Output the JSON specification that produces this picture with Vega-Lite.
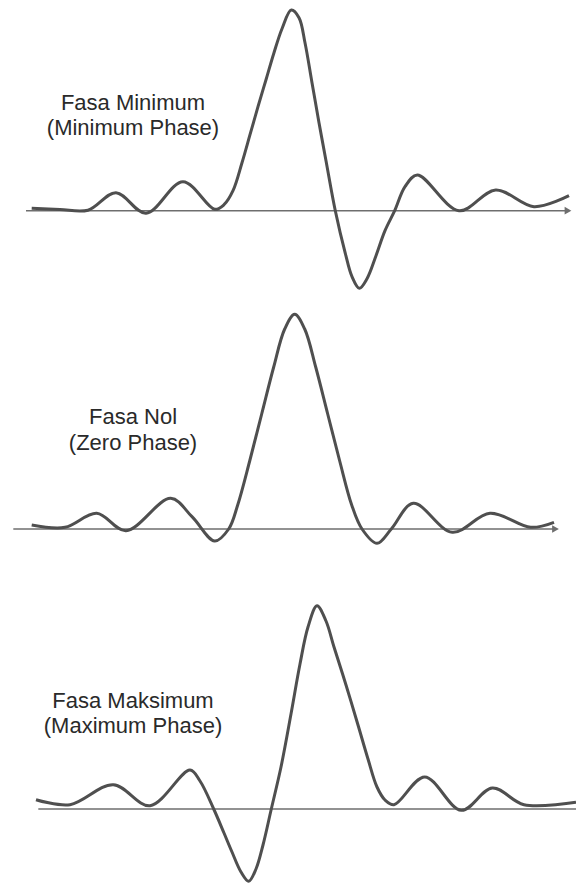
{
  "$schema": "https://vega.github.io/schema/vega-lite/v6.json",
  "background": "white",
  "padding": 0,
  "spacing": 0,
  "config": {"view": {"stroke": null}, "concat": {"spacing": 0}},
  "datasets": {
    "curve_min": [
      {"t": 31.7, "amp": 2.4}, {"t": 60, "amp": 1.2}, {"t": 88, "amp": 0.5},
      {"t": 116, "amp": 18.0}, {"t": 146, "amp": -2.6}, {"t": 183, "amp": 29.0},
      {"t": 214.7, "amp": 1.4}, {"t": 224, "amp": 6}, {"t": 233, "amp": 20},
      {"t": 242, "amp": 48}, {"t": 250, "amp": 76}, {"t": 258, "amp": 104},
      {"t": 266, "amp": 131}, {"t": 274, "amp": 158}, {"t": 282, "amp": 182},
      {"t": 291.3, "amp": 200.7}, {"t": 299, "amp": 193}, {"t": 305, "amp": 168},
      {"t": 312, "amp": 128}, {"t": 319, "amp": 88}, {"t": 326, "amp": 50},
      {"t": 335.3, "amp": 0}, {"t": 345.3, "amp": -42.6}, {"t": 352, "amp": -66},
      {"t": 359.3, "amp": -77.6}, {"t": 367, "amp": -68}, {"t": 376, "amp": -45},
      {"t": 385, "amp": -20}, {"t": 394.7, "amp": 0}, {"t": 405, "amp": 24},
      {"t": 417.3, "amp": 35.7}, {"t": 459, "amp": 0}, {"t": 495.7, "amp": 20.7},
      {"t": 534, "amp": 4}, {"t": 569, "amp": 15}
    ],
    "axis_min": [{"t1": 26, "t2": 566, "amp": 0}],
    "arrow_min": [{"t": 568, "amp": 0}],
    "text_min": [
      {"t": 133, "amp": 100.7, "label": "Fasa Minimum"},
      {"t": 133, "amp": 75.7, "label": "(Minimum Phase)"}
    ],
    "curve_zero": [
      {"t": 31.7, "amp": 4}, {"t": 65, "amp": 1.7}, {"t": 96.7, "amp": 15.7},
      {"t": 126, "amp": -1.7}, {"t": 170.7, "amp": 30.7}, {"t": 192, "amp": 12.3},
      {"t": 214.7, "amp": -12}, {"t": 228.7, "amp": 0}, {"t": 237.7, "amp": 24},
      {"t": 249.7, "amp": 68}, {"t": 261.7, "amp": 115}, {"t": 273.7, "amp": 162},
      {"t": 284.7, "amp": 200}, {"t": 294.7, "amp": 214.7}, {"t": 304.7, "amp": 200},
      {"t": 315.7, "amp": 162}, {"t": 327.7, "amp": 115}, {"t": 339.7, "amp": 68},
      {"t": 351.7, "amp": 24}, {"t": 362, "amp": 0}, {"t": 377, "amp": -14.3},
      {"t": 391.3, "amp": 0}, {"t": 413.3, "amp": 25.7}, {"t": 452.3, "amp": -3.3},
      {"t": 490, "amp": 15.7}, {"t": 530.7, "amp": 1.7}, {"t": 554, "amp": 6.7}
    ],
    "axis_zero": [{"t1": 13.3, "t2": 554, "amp": 0}],
    "arrow_zero": [{"t": 555.5, "amp": 0}],
    "text_zero": [
      {"t": 133, "amp": 104.7, "label": "Fasa Nol"},
      {"t": 133, "amp": 79, "label": "(Zero Phase)"}
    ],
    "curve_max": [
      {"t": 36, "amp": 9.3}, {"t": 70, "amp": 4.3}, {"t": 113.3, "amp": 24.3},
      {"t": 150, "amp": 3.3}, {"t": 190, "amp": 39}, {"t": 200, "amp": 28},
      {"t": 213.7, "amp": 0}, {"t": 224, "amp": -24}, {"t": 232, "amp": -43},
      {"t": 241, "amp": -63}, {"t": 248.7, "amp": -72.3}, {"t": 256, "amp": -60},
      {"t": 263, "amp": -36}, {"t": 271.3, "amp": 0}, {"t": 281, "amp": 42},
      {"t": 291, "amp": 95}, {"t": 300, "amp": 145}, {"t": 308, "amp": 182},
      {"t": 317, "amp": 203.3}, {"t": 326, "amp": 188}, {"t": 334, "amp": 162},
      {"t": 346, "amp": 124}, {"t": 358, "amp": 84}, {"t": 368, "amp": 50},
      {"t": 377, "amp": 22}, {"t": 385, "amp": 9}, {"t": 394, "amp": 4.3},
      {"t": 424.7, "amp": 32}, {"t": 461.3, "amp": -1.3}, {"t": 492.3, "amp": 21},
      {"t": 524, "amp": 4.3}, {"t": 576, "amp": 6.7}
    ],
    "axis_max": [{"t1": 38.3, "t2": 576, "amp": 0}],
    "text_max": [
      {"t": 133, "amp": 101, "label": "Fasa Maksimum"},
      {"t": 133, "amp": 76, "label": "(Maximum Phase)"}
    ]
  },
  "vconcat": [
    {
      "width": 576, "height": 295,
      "layer": [
        {"data": {"name": "axis_min"}, "mark": {"type": "rule", "stroke": "#6e6e6e", "strokeWidth": 1.5},
         "encoding": {
           "x": {"field": "t1", "type": "quantitative", "scale": {"domain": [0, 576], "nice": false, "zero": false}, "axis": null},
           "x2": {"field": "t2"},
           "y": {"field": "amp", "type": "quantitative", "scale": {"domain": [-84.3, 210.7], "nice": false, "zero": false}, "axis": null}}},
        {"data": {"name": "arrow_min"}, "mark": {"type": "point", "shape": "triangle-right", "filled": true, "size": 60, "color": "#6e6e6e", "opacity": 1},
         "encoding": {
           "x": {"field": "t", "type": "quantitative", "scale": {"domain": [0, 576], "nice": false, "zero": false}, "axis": null},
           "y": {"field": "amp", "type": "quantitative", "scale": {"domain": [-84.3, 210.7], "nice": false, "zero": false}, "axis": null}}},
        {"data": {"name": "curve_min"}, "mark": {"type": "line", "interpolate": "catmull-rom", "stroke": "#4f4f4f", "strokeWidth": 3},
         "encoding": {
           "x": {"field": "t", "type": "quantitative", "scale": {"domain": [0, 576], "nice": false, "zero": false}, "axis": null},
           "y": {"field": "amp", "type": "quantitative", "scale": {"domain": [-84.3, 210.7], "nice": false, "zero": false}, "axis": null}}},
        {"data": {"name": "text_min"}, "mark": {"type": "text", "font": "Liberation Sans", "fontSize": 22, "align": "center", "baseline": "alphabetic", "color": "#2a2a2a"},
         "encoding": {
           "x": {"field": "t", "type": "quantitative", "scale": {"domain": [0, 576], "nice": false, "zero": false}, "axis": null},
           "y": {"field": "amp", "type": "quantitative", "scale": {"domain": [-84.3, 210.7], "nice": false, "zero": false}, "axis": null},
           "text": {"field": "label", "type": "nominal"}}}
      ]
    },
    {
      "width": 576, "height": 288,
      "layer": [
        {"data": {"name": "axis_zero"}, "mark": {"type": "rule", "stroke": "#6e6e6e", "strokeWidth": 1.5},
         "encoding": {
           "x": {"field": "t1", "type": "quantitative", "scale": {"domain": [0, 576], "nice": false, "zero": false}, "axis": null},
           "x2": {"field": "t2"},
           "y": {"field": "amp", "type": "quantitative", "scale": {"domain": [-54, 234], "nice": false, "zero": false}, "axis": null}}},
        {"data": {"name": "arrow_zero"}, "mark": {"type": "point", "shape": "triangle-right", "filled": true, "size": 60, "color": "#6e6e6e", "opacity": 1},
         "encoding": {
           "x": {"field": "t", "type": "quantitative", "scale": {"domain": [0, 576], "nice": false, "zero": false}, "axis": null},
           "y": {"field": "amp", "type": "quantitative", "scale": {"domain": [-54, 234], "nice": false, "zero": false}, "axis": null}}},
        {"data": {"name": "curve_zero"}, "mark": {"type": "line", "interpolate": "catmull-rom", "stroke": "#4f4f4f", "strokeWidth": 3},
         "encoding": {
           "x": {"field": "t", "type": "quantitative", "scale": {"domain": [0, 576], "nice": false, "zero": false}, "axis": null},
           "y": {"field": "amp", "type": "quantitative", "scale": {"domain": [-54, 234], "nice": false, "zero": false}, "axis": null}}},
        {"data": {"name": "text_zero"}, "mark": {"type": "text", "font": "Liberation Sans", "fontSize": 22, "align": "center", "baseline": "alphabetic", "color": "#2a2a2a"},
         "encoding": {
           "x": {"field": "t", "type": "quantitative", "scale": {"domain": [0, 576], "nice": false, "zero": false}, "axis": null},
           "y": {"field": "amp", "type": "quantitative", "scale": {"domain": [-54, 234], "nice": false, "zero": false}, "axis": null},
           "text": {"field": "label", "type": "nominal"}}}
      ]
    },
    {
      "width": 576, "height": 300,
      "layer": [
        {"data": {"name": "axis_max"}, "mark": {"type": "rule", "stroke": "#6e6e6e", "strokeWidth": 1.5},
         "encoding": {
           "x": {"field": "t1", "type": "quantitative", "scale": {"domain": [0, 576], "nice": false, "zero": false}, "axis": null},
           "x2": {"field": "t2"},
           "y": {"field": "amp", "type": "quantitative", "scale": {"domain": [-74, 226], "nice": false, "zero": false}, "axis": null}}},
        {"data": {"name": "curve_max"}, "mark": {"type": "line", "interpolate": "catmull-rom", "stroke": "#4f4f4f", "strokeWidth": 3},
         "encoding": {
           "x": {"field": "t", "type": "quantitative", "scale": {"domain": [0, 576], "nice": false, "zero": false}, "axis": null},
           "y": {"field": "amp", "type": "quantitative", "scale": {"domain": [-74, 226], "nice": false, "zero": false}, "axis": null}}},
        {"data": {"name": "text_max"}, "mark": {"type": "text", "font": "Liberation Sans", "fontSize": 22, "align": "center", "baseline": "alphabetic", "color": "#2a2a2a"},
         "encoding": {
           "x": {"field": "t", "type": "quantitative", "scale": {"domain": [0, 576], "nice": false, "zero": false}, "axis": null},
           "y": {"field": "amp", "type": "quantitative", "scale": {"domain": [-74, 226], "nice": false, "zero": false}, "axis": null},
           "text": {"field": "label", "type": "nominal"}}}
      ]
    }
  ]
}
